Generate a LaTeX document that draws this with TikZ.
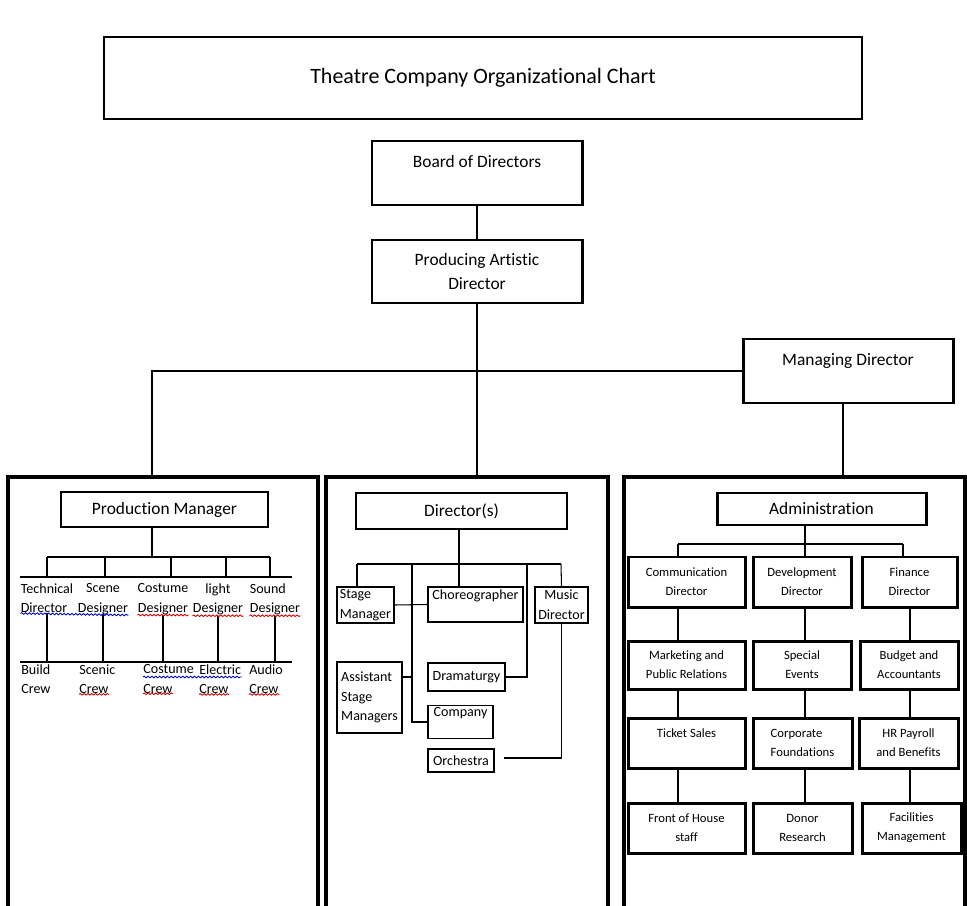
\documentclass[tikz,border=0pt]{standalone}
\usepackage{fontspec}
\setmainfont[Ligatures=NoCommon]{Carlito}
\usetikzlibrary{calc}
\usetikzlibrary{decorations.pathmorphing}

\newcommand{\ttlsize}{\fontsize{12.5}{15}\selectfont}
\newcommand{\mainsize}{\fontsize{9.9}{13.6}\selectfont}
\newcommand{\subsize}{\fontsize{8}{11.3}\selectfont}
\newcommand{\admsize}{\fontsize{7.2}{10.8}\selectfont}

\tikzset{
  heavybox/.style={draw, line width=1.7pt, align=center, inner sep=0pt},
  thinbox/.style={draw, line width=0.6pt, align=center, inner sep=1pt},
  sz/.style 2 args={minimum width=#1*0.02cm, minimum height=#2*0.02cm},
  link/.style={line width=0.6pt},
  panel/.style={line width=1.8pt},
  crewtext/.style={inner sep=0pt, anchor=north west, align=left, font=\subsize},
  designtext/.style={inner sep=0pt, anchor=north, font=\subsize},
  spellred/.style={draw=red!85!black, line width=0.5pt, decorate, decoration={snake, amplitude=0.45pt, segment length=2.2pt}},
  spellblue/.style={spellred, draw=blue!80!black}
}

\begin{document}
\begin{tikzpicture}[x=0.02cm, y=-0.02cm]
                \useasboundingbox (0,0) rectangle (967,906);

                \node[thinbox, sz={758}{82}, font=\ttlsize] (title) at (483,78) {Theatre Company Organizational Chart};
                \node[heavybox, sz={210}{64}, font=\mainsize] (bod) at (477,173) {Board of Directors\\\mbox{}};
                \node[heavybox, sz={210}{63}, font=\mainsize] (pad) at (477,271.5) {Producing Artistic\\Director};
                \node[heavybox, sz={210}{64}, font=\mainsize] (md) at (848,371) {Managing Director\\\mbox{}};

                \draw[panel] (8,906) |- (318,477) -- (318,906);
                \draw[panel] (326,906) |- (608,477) -- (608,906);
                \draw[panel] (624,906) |- (965,477) -- (965,906);
                \coordinate (lefttop) at (152,477);
                \coordinate (midtop) at (479,477);
                \coordinate (righttop) at (843,477);

                \draw[link] (bod.south) -- (pad.north);
                \draw[link] (pad.south) -- (pad.south |- midtop);
                \draw[link] (md.west) -| (lefttop);
                \draw[link] (md.south -| righttop) -- (righttop);

                \node[heavybox, sz={207}{35}, font=\mainsize] (pm) at (164.5,509.5) {Production Manager};
                \coordinate (pmbus) at (152,557);
                \draw[link] (pm.south -| pmbus) -- (pmbus);
                \draw[link] (47,557) -- (270,557);
                \foreach \x in {47,105,171,226,270}
                    \draw[link] (\x,557) -- (\x,577);
                \coordinate (dl) at (20,577);
                \coordinate (dr) at (292,577);
                \draw[link] (dl) -- (dr);

                \node[designtext, align=left] (td) at (47,583) {Technical\\Director};
                \node[designtext, align=center] (sd) at (103,583) {Scene\\Designer};
                \node[designtext, align=center] (cd) at (163,583) {Costume\\Designer};
                \node[designtext, align=center] (ld) at (218,583) {light\\Designer};
                \node[designtext, align=left] (snd) at (275,583) {Sound\\Designer};

                \coordinate (cl) at (20,662);
                \coordinate (cr) at (292,662);
                \draw[link] (cl) -- (cr);
                \foreach \n in {td,sd,cd,ld,snd}
                    \draw[link] (\n.south) -- (\n.south |- cl);

                \node[crewtext] (bc) at (21,664) {Build\\Crew};
                \node[crewtext] (sc) at (79,664) {Scenic\\Crew};
                \node[crewtext] (cc) at (143,664) {Costume\\Crew};
                \node[crewtext] (ec) at (199,664) {Electric\\Crew};
                \node[crewtext] (ac) at (249,664) {Audio\\Crew};

                \draw[spellblue] (td.south west) -- (sd.south east);
                \draw[spellred] (cd.south west) -- (cd.south east);
                \draw[spellred] (ld.south west) -- (ld.south east);
                \draw[spellred] (snd.south west) -- (snd.south east);
                \draw[spellblue] ($(cc.north west)+(0,13)$) -- ($(ec.north east)+(0,13)$);
                \foreach \n in {sc,cc,ec,ac}
                    \draw[spellred] (\n.south west) -- ++(30,0);

                \node[heavybox, sz={211}{36}, font=\mainsize] (dir) at (461.5,511) {Director(s)};
                \coordinate (dbus) at (459,564);
                \coordinate (dbl) at (357,564);
                \coordinate (dbr) at (561,564);
                \coordinate (dj) at (412,564);
                \coordinate (dk) at (527,564);
                \draw[link] (dir.south -| dbus) -- (dbus);
                \draw[link] (dbl) -- (dbr);

                \node[thinbox, sz={57}{36}, align=left, font=\subsize] (sm) at (365.5,605) {Stage\\Manager};
                \node[thinbox, sz={95}{35}, font=\subsize] (cho) at (475.5,604.5) {Choreographer\\\mbox{}};
                \node[thinbox, sz={53}{36}, font=\subsize] (mus) at (561.5,605) {Music\\Director};
                \node[thinbox, sz={65}{71}, align=left, font=\subsize] (asm) at (369.5,697.5) {Assistant\\Stage\\Managers};
                \node[thinbox, sz={77}{28}, font=\subsize] (dra) at (466.5,677) {Dramaturgy};
                \node[thinbox, sz={65}{32}, font=\subsize] (com) at (460.5,722) {Company\\\mbox{}};
                \node[thinbox, sz={66}{23}, font=\subsize] (orc) at (461,760.5) {Orchestra};
                \coordinate (orcend) at (504,758);

                \draw[link] (dbl) -- (dbl |- sm.north);
                \draw[link] (dbus) -- (dbus |- cho.north);
                \draw[link] (dbr) -- (mus.north);
                \draw[link] (dk) |- (dra.east);
                \draw[link] (dj) |- (com.west);
                \draw[link] (asm.east |- dra.east) -- (dj |- dra.east);
                \draw[link] (sm.east) -- (cho.west);
                \draw[link] (mus.south) |- (orcend);

                \node[heavybox, sz={209}{32}, font=\mainsize] (adm) at (821.5,509) {Administration};
                \coordinate (abus) at (805,544);
                \coordinate (ab1) at (678,544);
                \coordinate (ab3) at (903,544);
                \coordinate (c3) at (910,544);
                \draw[link] (adm.south -| abus) -- (abus);
                \draw[link] (ab1) -- (ab3);

                \node[heavybox, sz={117}{50}, font=\admsize] (cmd) at (686.5,582) {Communication\\Director};
                \node[heavybox, sz={98}{50}, font=\admsize] (dvd) at (802,582) {Development\\Director};
                \node[heavybox, sz={95}{50}, font=\admsize] (fnd) at (909.5,582) {Finance\\Director};
                \node[heavybox, sz={117}{48}, font=\admsize] (mkt) at (686.5,665) {Marketing and\\Public Relations};
                \node[heavybox, sz={98}{48}, font=\admsize] (spe) at (802,665) {Special\\Events};
                \node[heavybox, sz={98}{48}, font=\admsize] (bud) at (909,665) {Budget and\\Accountants};
                \node[heavybox, sz={117}{50}, font=\admsize] (tix) at (686.5,743) {Ticket Sales\\\mbox{}};
                \node[heavybox, sz={99}{50}, align=left, font=\admsize] (corp) at (802.5,743) {Corporate\\Foundations};
                \node[heavybox, sz={99}{50}, font=\admsize] (hr) at (908.5,743) {HR Payroll\\and Benefits};
                \node[heavybox, sz={117}{50}, font=\admsize] (foh) at (686.5,828) {Front of House\\staff};
                \node[heavybox, sz={99}{50}, font=\admsize] (don) at (802.5,828) {Donor\\Research};
                \node[heavybox, sz={99}{50}, font=\admsize] (fac) at (911.5,828) {Facilities\\Management};

                \draw[link] (ab1) -- (ab1 |- cmd.north);
                \draw[link] (abus) -- (abus |- dvd.north);
                \draw[link] (ab3) -- (ab3 |- fnd.north);
                \foreach \a/\b in {cmd/mkt,mkt/tix,tix/foh}
                    \draw[link] (ab1 |- \a.south) -- (ab1 |- \b.north);
                \foreach \a/\b in {dvd/spe,spe/corp,corp/don}
                    \draw[link] (abus |- \a.south) -- (abus |- \b.north);
                \foreach \a/\b in {fnd/bud,bud/hr,hr/fac}
                    \draw[link] (c3 |- \a.south) -- (c3 |- \b.north);
            \end{tikzpicture}
\end{document}
